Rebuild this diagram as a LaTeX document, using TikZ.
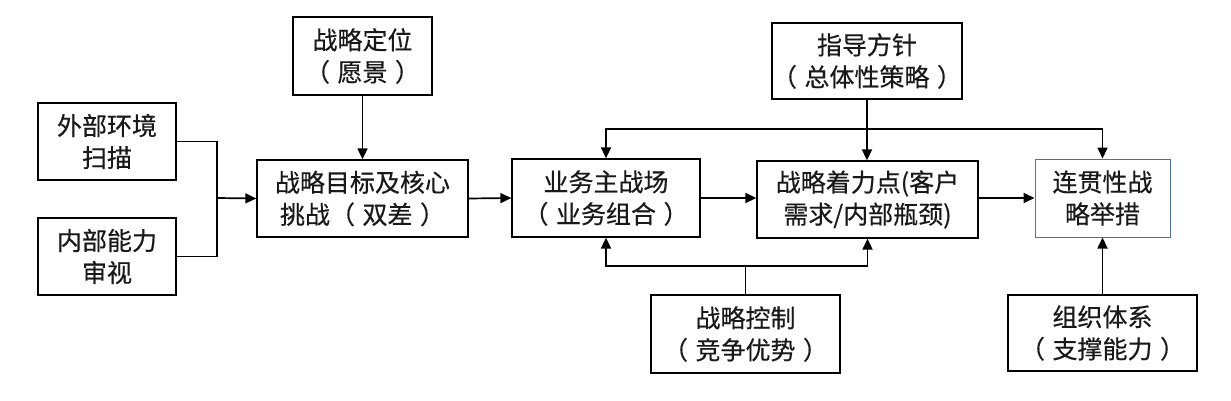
\documentclass[tikz,border=0pt]{standalone}
\usepackage{fontspec}
\setmainfont{Noto Sans CJK SC}[FakeBold=0.4]
\usetikzlibrary{arrows.meta}
\definecolor{bluebox}{RGB}{80,110,160}
\definecolor{txt}{RGB}{25,25,25}
\newcommand{\lp}{（\hspace{0.3em}}
\newcommand{\rp}{\hspace{0.3em}）}
\tikzset{
  box/.style={draw=black, line width=1.3pt, fill=white, align=center, inner sep=0pt,
    font=\fontsize{25pt}{32pt}\selectfont, text=txt},
  conn/.style={line width=1.7pt, draw=black},
  arr/.style={conn, -{Triangle[length=11pt,width=10pt]}},
}
\begin{document}
\begin{tikzpicture}[x=1pt,y=-1pt]
\useasboundingbox (0,0) rectangle (1231,401);
\node[box, minimum width=138pt, minimum height=77pt] (A) at (107,141.5) {外部环境\\扫描};
\node[box, minimum width=138pt, minimum height=77pt] (B) at (107,256.5) {内部能力\\审视};
\node[box, minimum width=211pt, minimum height=77pt] (C) at (362.5,198.5) {战略目标及核心\\挑战\lp 双差\rp};
\node[box, minimum width=139pt, minimum height=78pt] (D) at (362.5,56) {战略定位\\\lp 愿景\rp};
\node[box, minimum width=188pt, minimum height=78pt] (E) at (606,198) {业务主战场\\\lp 业务组合\rp};
\node[box, minimum width=221pt, minimum height=77pt] (F) at (867.5,199.5) {战略着力点(客户\\需求/内部瓶颈)};
\node[box, minimum width=188pt, minimum height=76pt] (G) at (867,61) {指导方针\\\lp 总体性策略\rp};
\node[box, draw=bluebox, line width=1pt, minimum width=135pt, minimum height=78pt] (H) at (1102.5,198) {连贯性战\\略举措};
\node[box, minimum width=189pt, minimum height=76pt] (I) at (1102.5,333) {组织体系\\\lp 支撑能力\rp};
\node[box, minimum width=189pt, minimum height=78pt] (J) at (745.5,334) {战略控制\\\lp 竞争优势\rp};

\coordinate (j1) at (217,198);
\draw[conn] (A.east) -| (j1);
\draw[conn] (B.east) -| (j1);
\draw[arr] (j1) -- (C.west);
\draw[arr] (D.south) -- (C.north);
\draw[arr] (C.east) -- (E.west);
\draw[arr] (E.east) -- (E.east -| F.west);
\draw[arr] (F.east |- H.west) -- (H.west);

\coordinate (t) at (867,129);
\draw[conn] (G.south) -- (t);
\draw[arr] (t) -| (E.north);
\draw[arr] (t) -| (H.north);
\draw[arr] (t) -- (t |- F.north);

\coordinate (b) at (745.5,266);
\draw[conn] (J.north) -- (b);
\draw[arr] (b) -| (E.south);
\draw[arr] (b) -| (F.south);

\draw[arr] (I.north) -- (H.south);
\end{tikzpicture}
\end{document}
